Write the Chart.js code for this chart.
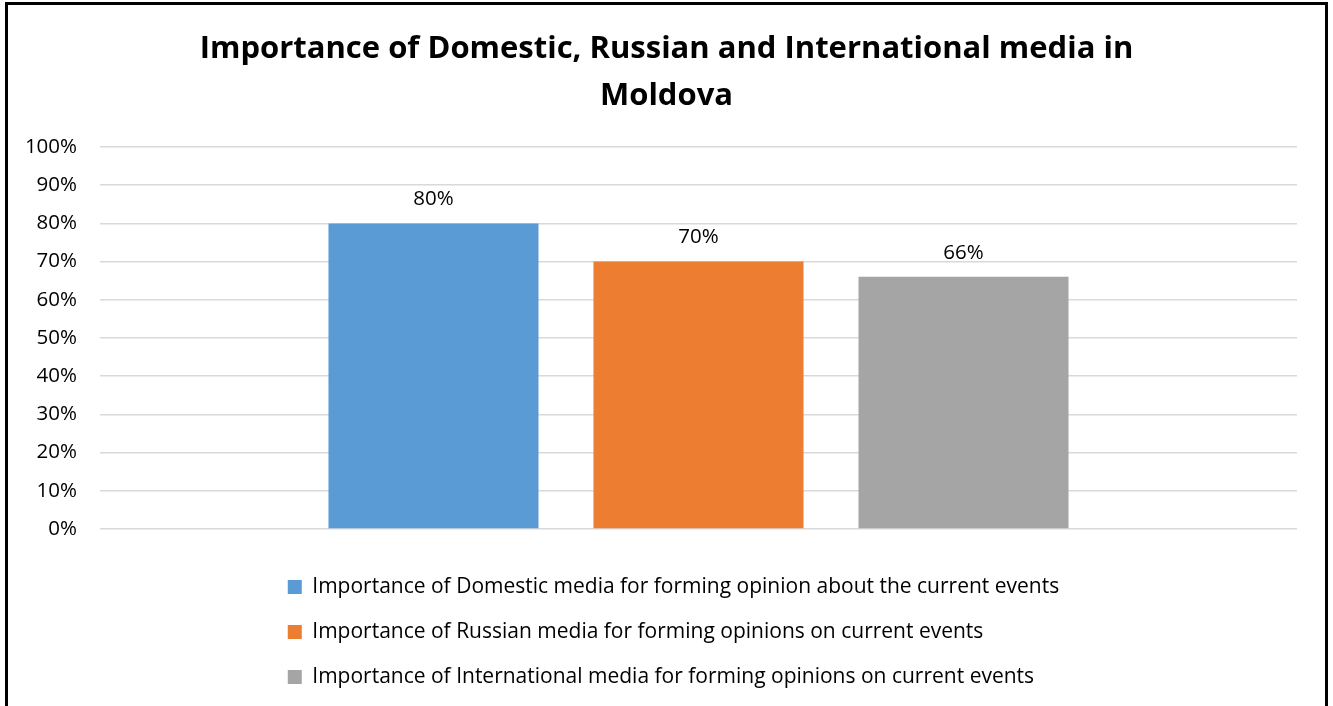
<!DOCTYPE html>
<html>
<head>
<meta charset="utf-8">
<title>Media importance – Moldova</title>
<script src="https://cdn.jsdelivr.net/npm/chart.js@4/dist/chart.umd.min.js"></script>
<style>
  html,body{margin:0;padding:0;background:#fff;overflow:hidden}
  .wrap{position:absolute;left:0;top:0;width:1333px;height:706px}
  .frame{position:absolute;left:5px;top:2px;width:1323px;height:740px;border:3px solid #000;box-sizing:border-box;pointer-events:none}
</style>
</head>
<body>
<div class="wrap"><canvas id="mediaChart" width="1333" height="706"></canvas></div>
<div class="frame"></div>
<script>
/* ===== data ===== */
const TITLE=["Importance of Domestic, Russian and International media in","Moldova"];
const CATS=[""];
const SERIES=[
  "Importance of Domestic media for forming opinion about the current events",
  "Importance of Russian media for forming opinions on current events",
  "Importance of International media for forming opinions on current events"
];
const VALUES=[80,70,66];
const COLORS=["#5B9BD5","#ED7D31","#A5A5A5"];
const Y_TICKS=[0,10,20,30,40,50,60,70,80,90,100];

const FONT="'Open Sans', 'DejaVu Sans', sans-serif";
const INK="#000";

/* value labels above each bar */
const barLabels={
  id:"barLabels",
  afterDatasetsDraw(chart){
    const c=chart.ctx;
    c.save();
    c.font=`20.5px ${FONT}`; c.fillStyle=INK; c.textAlign="center"; c.textBaseline="middle";
    chart.data.datasets.forEach((ds,i)=>{
      const m=chart.getDatasetMeta(i); if(m.hidden) return;
      m.data.forEach((el,j)=>c.fillText(ds.data[j]+"%",el.x,el.y-24));
    });
    c.restore();
  }
};

/* title centred on the full canvas; legend rows left aligned, block centred on the widest row */
const blocks={
  id:"blocks",
  afterLayout(chart){
    const t=chart.titleBlock;
    if(t){ t.left=0; t.right=chart.width; t.width=chart.width; }
    const lg=chart.legend; if(!lg||!lg.lineWidths) return;
    const pad=lg.options.labels.padding;
    const widest=Math.max(...lg.lineWidths)-pad;
    lg.left=(chart.width-widest)/2-pad+7;
  }
};

new Chart(document.getElementById("mediaChart").getContext("2d"),{
  type:"bar",
  data:{
    labels:CATS,
    datasets:SERIES.map((name,i)=>({
      label:name,
      data:[VALUES[i]],
      backgroundColor:COLORS[i],
      borderWidth:0,
      categoryPercentage:0.6642,
      barPercentage:0.7925
    }))
  },
  options:{
    responsive:false,animation:false,
    layout:{padding:{left:0,right:36,top:0,bottom:8.5}},
    plugins:{
      title:{
        display:true,text:TITLE,color:INK,
        font:{family:FONT,size:31,weight:"bold",lineHeight:1.516},
        padding:{top:26,bottom:27}
      },
      legend:{
        display:true,position:"bottom",align:"start",
        labels:{color:INK,font:{family:FONT,size:21},boxWidth:14,boxHeight:14,padding:24}
      },
      tooltip:{enabled:false}
    },
    scales:{
      x:{
        ticks:{display:false},
        grid:{display:false,drawTicks:false},
        border:{display:false},
        afterFit(s){ s.height=23.5; }
      },
      y:{
        min:0,max:100,
        afterBuildTicks(s){ s.ticks=Y_TICKS.map(v=>({value:v})); },
        ticks:{color:INK,font:{family:FONT,size:20.5},padding:23,callback:(v)=>v+"%"},
        grid:{color:"#d9d9d9",lineWidth:1.5,drawTicks:false},
        border:{display:false},
        afterFit(s){ s.width=100; }
      }
    }
  },
  plugins:[barLabels,blocks]
});
</script>
</body>
</html>
